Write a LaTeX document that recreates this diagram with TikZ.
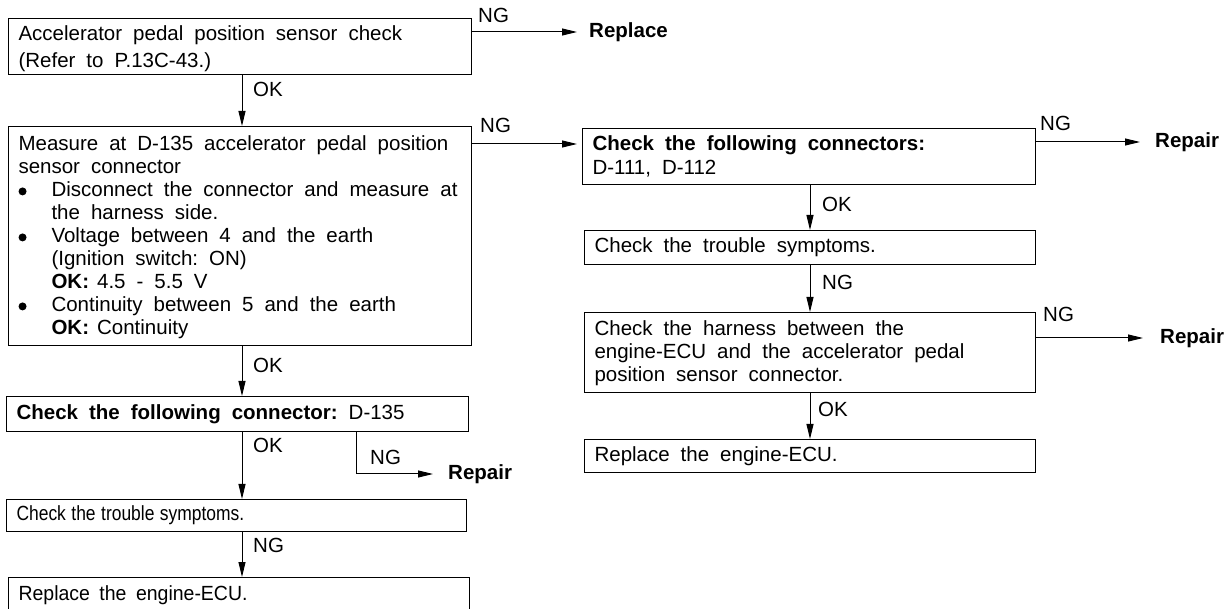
\documentclass[tikz,border=0pt]{standalone}
\usepackage{fontspec}
\usepackage{graphicx}
\setmainfont{Liberation Sans}
\usetikzlibrary{arrows.meta}
\newcommand{\bxfont}{\fontsize{20.5}{23}\selectfont}
\newcommand{\bxfontwide}{\fontsize{20.5}{27}\selectfont}
\newcommand{\bxfontmid}{\fontsize{20.5}{24}\selectfont}
\newcommand{\wsp}{\spaceskip=11pt\relax\xspaceskip=11pt\relax\hyphenpenalty=10000\relax}
\newcommand{\bulitem}{\makebox[33pt][l]{\tikz[baseline=0pt]\fill (0pt,5.5pt) circle[radius=4pt];}}
\newcommand{\indt}{\hspace*{33pt}}
\begin{document}
\begin{tikzpicture}[x=1pt,y=-1pt,
  box/.style={draw=black, line width=1.1pt, rectangle, anchor=north west, align=left,
    inner xsep=10pt, inner ysep=0pt, font=\bxfont},
  lbl/.style={font=\fontsize{20.5}{23}\selectfont, inner sep=0pt, anchor=base west},
  res/.style={font=\bfseries\fontsize{20.5}{23}\selectfont, inner sep=0pt, anchor=west},
  flow/.style={draw=black, line width=1pt, -{Triangle[length=15pt,width=7pt]}}]
\useasboundingbox (0,0) rectangle (1227,609);

% left column
\node[box, minimum width=463pt, minimum height=56pt, text width=443pt, font=\bxfontwide] (b1) at (8,18)
  {\wsp\rule{0pt}{20pt}Accelerator pedal position sensor check\\(Refer to P.13C-43.)};
\node[box, minimum width=463pt, minimum height=219pt, text width=443pt] (b2) at (8,126)
  {\wsp\rule{0pt}{18pt}Measure at D-135 accelerator pedal position\\
   sensor connector\\
   \bulitem Disconnect the connector and measure at\\
   \indt the harness side.\\
   \bulitem Voltage between 4 and the earth\\
   \indt (Ignition switch: ON)\\
   \indt\textbf{OK:}\hspace{8pt}4.5 - 5.5 V\\
   \bulitem Continuity between 5 and the earth\\
   \indt\textbf{OK:}\hspace{8pt}Continuity};
\node[box, minimum width=462pt, minimum height=35pt, text width=442pt] (b3) at (6,396)
  {\wsp\textbf{Check the following connector:} D-135};
\node[box, minimum width=460pt, minimum height=32pt, text width=440pt] (b4) at (6,499)
  {\wsp\scalebox{0.85}[1]{\spaceskip=6.5pt\relax Check the trouble symptoms.}};
\node[box, minimum width=461pt, minimum height=36pt, text width=441pt] (b5) at (8,577)
  {\wsp\scalebox{0.95}[1]{\spaceskip=10pt\relax Replace the engine-ECU.}};

% right column
\node[box, minimum width=453pt, minimum height=56pt, text width=433pt, font=\bxfontmid] (r1) at (582,128)
  {\wsp\textbf{Check the following connectors:}\\D-111, D-112};
\node[box, minimum width=451pt, minimum height=34pt, text width=431pt] (r2) at (584,230)
  {\wsp Check the trouble symptoms.};
\node[box, minimum width=451pt, minimum height=80pt, text width=431pt] (r3) at (584,312)
  {\wsp\rule{0pt}{16pt}Check the harness between the\\
   engine-ECU and the accelerator pedal\\
   position sensor connector.};
\node[box, minimum width=451pt, minimum height=33pt, text width=431pt] (r4) at (584,439)
  {\wsp Replace the engine-ECU.};

% results
\node[res] (rp1) at (589,32) {Replace};
\node[res] (rp2) at (1155,142) {Repair};
\node[res] (rp3) at (1160,338) {Repair};
\node[res] (rp4) at (448,474) {Repair};

% labels
\node[lbl] (ng1) at (478,23) {NG};
\node[lbl] (ng2) at (480,133) {NG};
\node[lbl] (ng3) at (1040,131) {NG};
\node[lbl] (ng4) at (1043,322) {NG};
\node[lbl] (ng5) at (370,465) {NG};
\node[lbl] (ok1) at (253,97) {OK};
\node[lbl] (ok2) at (253,373) {OK};
\node[lbl] (ok3) at (253,453) {OK};
\node[lbl] (ng6) at (253,552) {NG};
\node[lbl] (ok4) at (822,212) {OK};
\node[lbl] (ng7) at (822,290) {NG};
\node[lbl] (ok5) at (818,417) {OK};

% connectors
\coordinate (lx) at (242,0);
\coordinate (rx) at (810,0);
\coordinate (nx) at (356,0);
\draw[flow, shorten >=12pt] (b1.east |- rp1.west) -- (rp1.west);
\draw[flow, shorten >=5pt] ([yshift=-18pt]b2.north east) -- ([yshift=-18pt]b2.north east -| r1.west);
\draw[flow, shorten >=15pt] (r1.east |- rp2.west) -- (rp2.west);
\draw[flow, shorten >=17pt] (r3.east |- rp3.west) -- (rp3.west);
\draw[flow] (b1.south -| lx) -- (b2.north -| lx);
\draw[flow] (b2.south -| lx) -- (b3.north -| lx);
\draw[flow] (b3.south -| lx) -- (b4.north -| lx);
\draw[flow] (b4.south -| lx) -- (b5.north -| lx);
\draw[flow, shorten >=15pt] (b3.south -| nx) |- (rp4.west);
\draw[flow] (r1.south -| rx) -- (r2.north -| rx);
\draw[flow] (r2.south -| rx) -- (r3.north -| rx);
\draw[flow] (r3.south -| rx) -- (r4.north -| rx);
\end{tikzpicture}
\end{document}
